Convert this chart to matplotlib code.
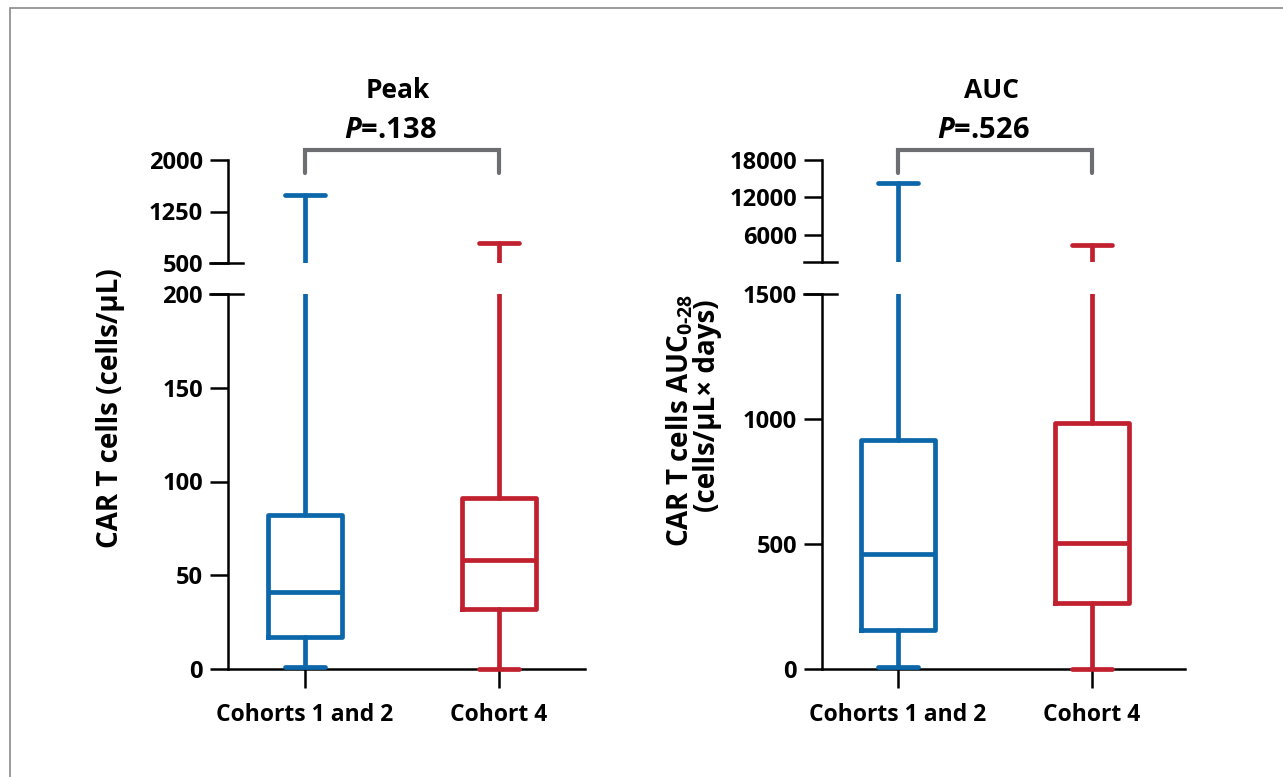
import matplotlib
matplotlib.use("Agg")
import matplotlib.pyplot as plt
from matplotlib.lines import Line2D
from matplotlib.patches import Rectangle
import matplotlib.transforms as mtransforms

# ---------------- data ----------------
categories = ["Cohorts 1 and 2", "Cohort 4"]
colors = ["#0b67aa", "#c1202f"]

peak_min = [1, 0]
peak_q1 = [17, 32]
peak_med = [41, 58]
peak_q3 = [82, 91]
peak_max = [1490, 790]

auc_min = [8, 0]
auc_q1 = [158, 266]
auc_med = [460, 504]
auc_q3 = [918, 984]
auc_max = [14300, 4400]

peak_lower_ticks = [0, 50, 100, 150, 200]
peak_upper_ticks = [500, 1250, 2000]
auc_lower_ticks = [0, 500, 1000, 1500]
auc_upper_ticks = [6000, 12000, 18000]

titles = ["Peak", "AUC"]
pvals = [".138", ".526"]

FONT = "Open Sans"
plt.rcParams["font.family"] = [FONT, "DejaVu Sans"]
plt.rcParams["font.weight"] = "bold"
plt.rcParams["mathtext.fontset"] = "custom"
plt.rcParams["mathtext.rm"] = FONT
plt.rcParams["mathtext.it"] = FONT + ":italic:bold"
plt.rcParams["mathtext.bf"] = FONT + ":bold"

W, H = 1283, 777
fig = plt.figure(figsize=(W / 100, H / 100), dpi=100)


def rect(l, r, t, b):
    return [l / W, 1 - b / H, (r - l) / W, (b - t) / H]


def fx(px):
    return px / W


def fy(py):
    return 1 - py / H


LW_BOX = 3.4
LW_AX = 1.8
TICK_LEN = 13
GRAY = "#6d6e71"
TICK_FS = 17


def make_stats(mins, q1s, meds, q3s, maxs):
    out = []
    for a, b, c, d, e in zip(mins, q1s, meds, q3s, maxs):
        out.append(dict(whislo=a, q1=b, med=c, q3=d, whishi=e, fliers=[]))
    return out


def draw_boxes(ax, stats, lower):
    for i, st in enumerate(stats):
        col = colors[i]
        art = ax.bxp([st], positions=[i], widths=0.38, showfliers=False,
                     capwidths=0.21, patch_artist=False,
                     boxprops=dict(color=col, linewidth=LW_BOX, solid_joinstyle="round"),
                     medianprops=dict(color=col, linewidth=LW_BOX),
                     whiskerprops=dict(color=col, linewidth=LW_BOX, solid_capstyle="round"),
                     capprops=dict(color=col, linewidth=LW_BOX, solid_capstyle="round"),
                     manage_ticks=False)
        if lower:
            art["caps"][0].set_clip_on(False)
            art["caps"][0].set_zorder(5)
        else:
            art["caps"][1].set_clip_on(False)


def panel(l, r, t_up, b_up, t_lo, b_lo, xl, xr, lo_lim, up_lim,
          lo_ticks, up_ticks, stats, title, pval):
    axl = fig.add_axes(rect(l, r, t_lo, b_lo))
    axu = fig.add_axes(rect(l, r, t_up, b_up))
    for ax in (axl, axu):
        ax.set_xlim(xl, xr)
        ax.spines["top"].set_visible(False)
        ax.spines["right"].set_visible(False)
        ax.spines["left"].set_linewidth(LW_AX)
        ax.spines["bottom"].set_linewidth(LW_AX)
        ax.patch.set_alpha(0)
    axl.set_ylim(*lo_lim)
    axu.set_ylim(*up_lim)
    axu.spines["bottom"].set_visible(False)
    axl.set_yticks(lo_ticks)
    axu.set_yticks(up_ticks)
    axl.set_yticklabels([str(v) for v in lo_ticks])
    axu.set_yticklabels([str(v) for v in up_ticks])
    for ax in (axl, axu):
        ax.tick_params(axis="y", length=TICK_LEN, width=LW_AX, labelsize=TICK_FS, pad=5)
    axl.tick_params(axis="x", length=13.5, width=LW_AX, labelsize=16.5, pad=11)
    axu.tick_params(axis="x", bottom=False, labelbottom=False)
    axl.set_xticks(range(len(categories)))
    axl.set_xticklabels(categories)
    for lab in axl.get_xticklabels() + axl.get_yticklabels() + axu.get_yticklabels():
        lab.set_fontweight("bold")

    draw_boxes(axl, stats, True)
    draw_boxes(axu, stats, False)

    # break marks
    for y in (b_up, t_lo):
        fig.add_artist(Line2D([fx(l - 18), fx(l + 15)], [fy(y), fy(y)],
                              color="black", linewidth=LW_AX, transform=fig.transFigure))

    # bracket
    tr = mtransforms.blended_transform_factory(axu.transData, fig.transFigure)
    by = t_up - 10
    fig.add_artist(Line2D([0, 0, 1, 1], [fy(by + 23), fy(by), fy(by), fy(by + 23)],
                          color=GRAY, linewidth=3.0, transform=tr,
                          solid_capstyle="round", solid_joinstyle="miter"))
    cx = (l + (0 - xl) / (xr - xl) * (r - l) + l + (1 - xl) / (xr - xl) * (r - l)) / 2
    fig.text(fx(cx - 4), fy(90), title, ha="center", va="center", fontsize=19, fontweight="bold")
    fig.text(fx(cx - 12), fy(131), r"$\mathit{P}$=" + pval, ha="center", va="center",
             fontsize=21, fontweight="bold")
    return axl, axu


# Left panel (Peak)
panel(228, 585, 160, 263, 294, 669, -0.397, 1.443, (0, 200), (500, 2000),
      peak_lower_ticks, peak_upper_ticks,
      make_stats(peak_min, peak_q1, peak_med, peak_q3, peak_max),
      titles[0], pvals[0])

# Right panel (AUC)
panel(822, 1185, 160, 262, 294, 669, -0.392, 1.479, (0, 1500), (1680, 18000),
      auc_lower_ticks, auc_upper_ticks,
      make_stats(auc_min, auc_q1, auc_med, auc_q3, auc_max),
      titles[1], pvals[1])

# y labels
fig.text(fx(111), fy(408), "CAR T cells (cells/\u00b5L)", rotation=90, ha="center", va="center",
         fontsize=20, fontweight="bold")
fig.text(fx(680), fy(420), r"CAR T cells AUC$_{\mathregular{0\text{-}28}}$", rotation=90,
         ha="center", va="center", fontsize=20, fontweight="bold")
fig.text(fx(708), fy(406), "(cells/\u00b5L\u00d7 days)", rotation=90, ha="center", va="center",
         fontsize=20, fontweight="bold")

# outer frame
fig.add_artist(Rectangle((fx(10), fy(H + 20)), fx(W + 20), fy(8) - fy(H + 20),
                         transform=fig.transFigure, fill=False, edgecolor="#8a8a8a",
                         linewidth=1.2))

fig.savefig("out.png", dpi=100)
